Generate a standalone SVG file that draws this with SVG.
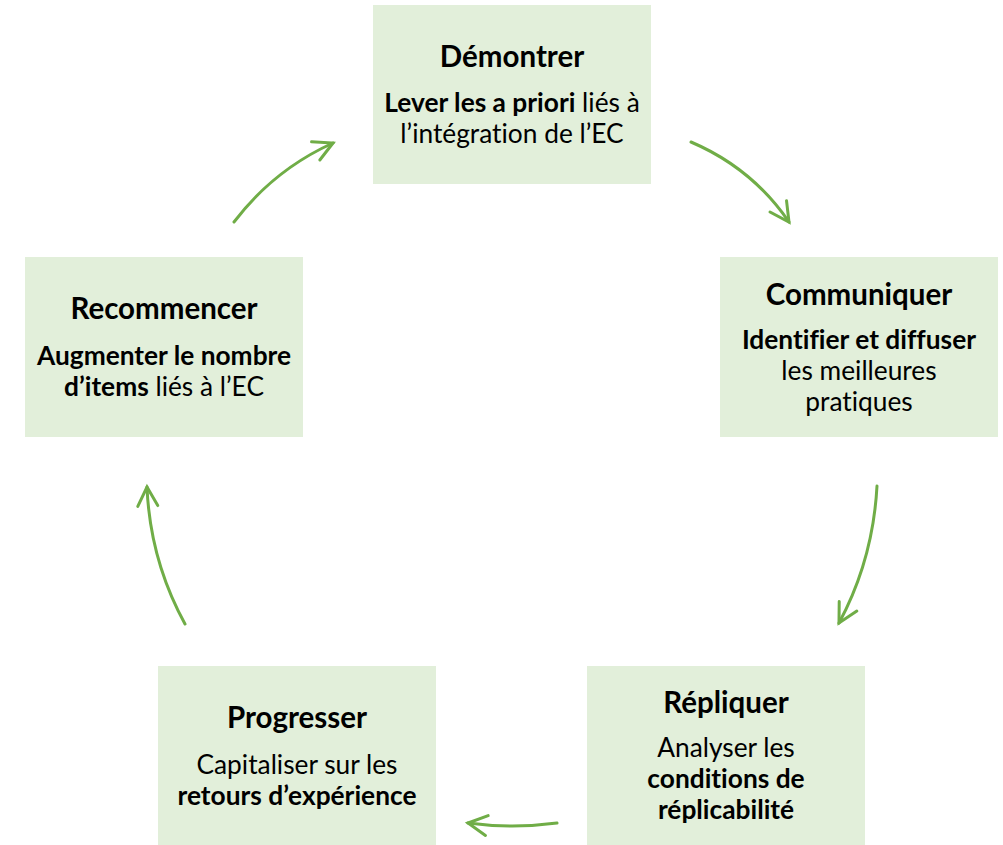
<svg xmlns="http://www.w3.org/2000/svg" width="1003" height="845" viewBox="0 0 1003 845">
<style>
.box{fill:#E2EFDA}
.t{font-family:Lato,"Open Sans","Liberation Sans",sans-serif;fill:#000;text-anchor:middle;font-variant-ligatures:none;font-feature-settings:"liga" 0,"dlig" 0}
.h{font-size:29.5px;font-weight:bold}
.b{font-size:26.3px}
.bo{font-weight:bold}
.arr{fill:none;stroke:#70AD47;stroke-width:3;stroke-linecap:round;marker-end:url(#ah)}
</style>
<defs>
<marker id="ah" markerUnits="userSpaceOnUse" viewBox="-24 -14 28 28" refX="0" refY="0" markerWidth="28" markerHeight="28" orient="auto">
<path d="M-19,-10 L0,0 L-19,10" fill="none" stroke="#70AD47" stroke-width="3" stroke-linecap="round" stroke-linejoin="miter"/>
</marker>
</defs>
<rect width="1003" height="845" fill="#fff"/>
<g id="connectors">
<path class="arr" d="M234,222 Q273.5,170 333,143"/>
<path class="arr" d="M691,142 Q752,168 789,222"/>
<path class="arr" d="M877,486 Q873,560 839,623"/>
<path class="arr" d="M557,823 Q512,829 468,823"/>
<path class="arr" d="M185,624 Q150,560 147,487"/>
</g>
<g id="demontrer">
<rect class="box" x="373" y="5" width="278" height="179"/>
<text class="t h" x="512" y="67">Démontrer</text>
<text class="t b" x="512" y="112"><tspan class="bo">Lever les a priori</tspan> liés à</text>
<text class="t b" x="512" y="143">l’intégration de l’EC</text>
</g>
<g id="communiquer">
<rect class="box" x="720" y="257" width="278" height="180"/>
<text class="t h" x="859" y="305">Communiquer</text>
<text class="t b bo" x="859" y="349">Identifier et diffuser</text>
<text class="t b" x="859" y="380">les meilleures</text>
<text class="t b" x="859" y="411">pratiques</text>
</g>
<g id="repliquer">
<rect class="box" x="587" y="666" width="278" height="179"/>
<text class="t h" x="726" y="713">Répliquer</text>
<text class="t b" x="726" y="757">Analyser les</text>
<text class="t b bo" x="726" y="788">conditions de</text>
<text class="t b bo" x="726" y="819">réplicabilité</text>
</g>
<g id="progresser">
<rect class="box" x="158" y="666" width="278" height="179"/>
<text class="t h" x="297" y="728">Progresser</text>
<text class="t b" x="297" y="774">Capitaliser sur les</text>
<text class="t b bo" x="297" y="805">retours d’expérience</text>
</g>
<g id="recommencer">
<rect class="box" x="25" y="257" width="278" height="180"/>
<text class="t h" x="164" y="319">Recommencer</text>
<text class="t b bo" x="164" y="365">Augmenter le nombre</text>
<text class="t b" x="164" y="396"><tspan class="bo">d’items</tspan> liés à l’EC</text>
</g>
</svg>
